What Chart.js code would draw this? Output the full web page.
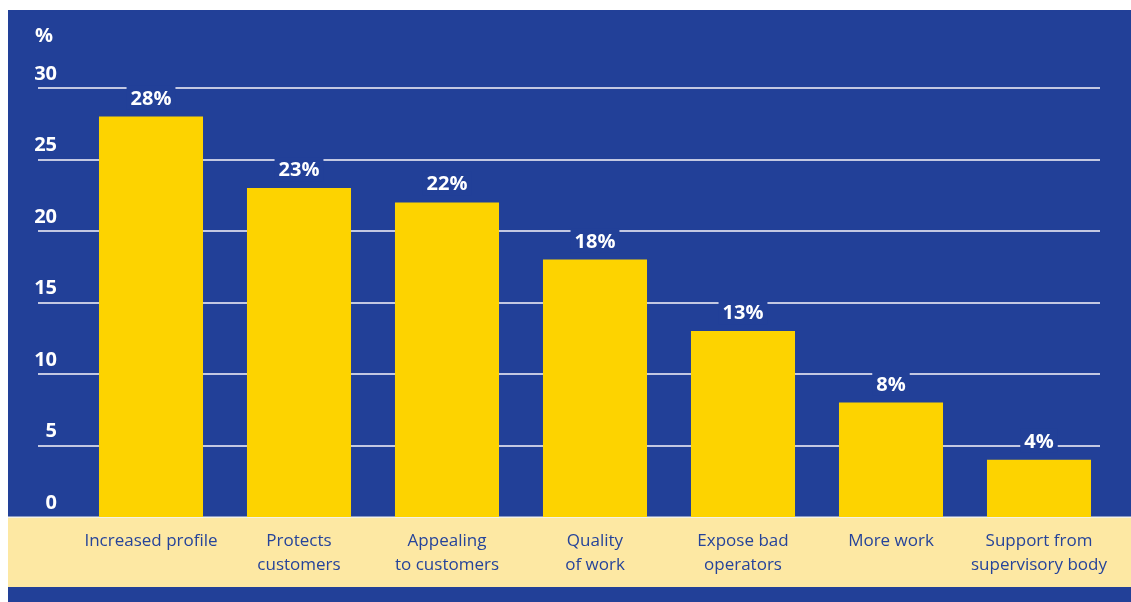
<!DOCTYPE html>
<html lang="en">
<head>
<meta charset="UTF-8">
<title>Perceived benefits</title>
<script src="https://cdn.jsdelivr.net/npm/chart.js"></script>
<style>
  html, body { margin: 0; padding: 0; background: #ffffff; }
  #wrap { position: absolute; left: 8px; top: 10px; width: 1123px; height: 592px; background: #224098; }
</style>
</head>
<body>

<div id="wrap"><canvas id="benefits-chart" width="1123" height="592"></canvas></div>

<script>
// categories (two-line labels where the text wraps)
var categorias = [
    'Increased profile',
    ['Protects', 'customers'],
    ['Appealing', 'to customers'],
    ['Quality', 'of work'],
    ['Expose bad', 'operators'],
    'More work',
    ['Support from', 'supervisory body']
];
var valores = [28, 23, 22, 18, 13, 8, 4];
var ejeY = { min: 0, max: 30, paso: 5, titulo: '%' };

var AZUL = '#224098';
var AMARILLO = '#fdd300';
var BANDA = '#fde8a3';
var FUENTE = '"Open Sans", "Noto Sans", sans-serif';

// fondo: banda clara bajo el área de barras
var fondo = {
    id: 'fondo',
    beforeDraw: function(chart) {
        var ctx = chart.ctx, a = chart.chartArea;
        ctx.save();
        ctx.fillStyle = BANDA;
        ctx.fillRect(0, a.bottom, chart.width, 70);
        ctx.fillStyle = '#f4f2e6';
        ctx.fillRect(0, a.bottom - 0.5, chart.width, 1.5);
        ctx.restore();
    }
};

// líneas horizontales que sobresalen a la izquierda del área
var rejilla = {
    id: 'rejilla',
    beforeDatasetsDraw: function(chart) {
        var ctx = chart.ctx, y = chart.scales.y;
        ctx.save();
        ctx.strokeStyle = '#c3c8e2';
        ctx.lineWidth = 2;
        y.ticks.forEach(function(t) {
            if (t.value <= 0) return;
            var py = Math.round(y.getPixelForValue(t.value));
            ctx.beginPath();
            ctx.moveTo(30, py);
            ctx.lineTo(1092, py);
            ctx.stroke();
        });
        // título del eje
        ctx.fillStyle = '#ffffff';
        ctx.font = 'bold 20px ' + FUENTE;
        ctx.textAlign = 'left';
        ctx.textBaseline = 'alphabetic';
        ctx.fillText(ejeY.titulo, 27, 32);
        ctx.restore();
    }
};

// etiquetas de valor con fondo azul sobre la rejilla
var etiquetas = {
    id: 'etiquetas',
    afterDatasetsDraw: function(chart) {
        var ctx = chart.ctx;
        var meta = chart.getDatasetMeta(0);
        ctx.save();
        ctx.font = 'bold 20px ' + FUENTE;
        ctx.textAlign = 'center';
        ctx.textBaseline = 'alphabetic';
        meta.data.forEach(function(bar, i) {
            var txt = valores[i] + '%';
            var w = ctx.measureText(txt).width + 8;
            var base = bar.y - 12;
            ctx.fillStyle = AZUL;
            ctx.fillRect(bar.x - w / 2, base - 19, w, 24);
            ctx.fillStyle = '#ffffff';
            ctx.fillText(txt, bar.x, base);
        });
        ctx.restore();
    }
};

var ctx = document.getElementById('benefits-chart').getContext('2d');
var chart = new Chart(ctx, {
    type: 'bar',
    data: {
        labels: categorias,
        datasets: [{
            data: valores,
            backgroundColor: AMARILLO,
            borderWidth: 0,
            barPercentage: 0.703,
            categoryPercentage: 1
        }]
    },
    options: {
        responsive: false,
        animation: false,
        layout: { padding: { top: 78, right: 18, bottom: 0, left: 0 } },
        plugins: { legend: { display: false }, tooltip: { enabled: false } },
        scales: {
            x: {
                grid: { display: false, drawTicks: false },
                border: { display: false },
                ticks: {
                    color: '#26449a',
                    font: { family: FUENTE, size: 17, lineHeight: 1.36 },
                    padding: 13,
                    maxRotation: 0,
                    autoSkip: false
                },
                afterFit: function(s) { s.height = 85; }
            },
            y: {
                min: ejeY.min,
                max: ejeY.max,
                grid: { display: false, drawTicks: false },
                border: { display: false },
                ticks: {
                    stepSize: ejeY.paso,
                    color: '#ffffff',
                    font: { family: FUENTE, size: 20, weight: 'bold' },
                    padding: 20,
                    labelOffset: -14
                },
                afterFit: function(s) { s.width = 69; }
            }
        }
    },
    plugins: [fondo, rejilla, etiquetas]
});
</script>

</body>
</html>
